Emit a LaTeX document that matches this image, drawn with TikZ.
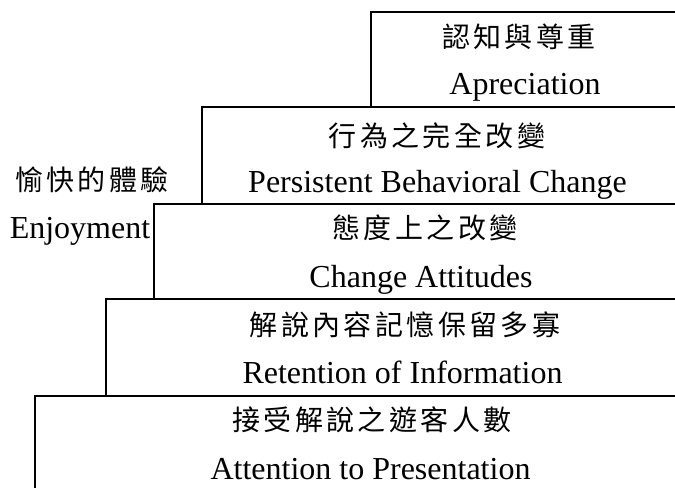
\documentclass[tikz,border=0pt]{standalone}
\usepackage{fontspec}
\setmainfont{Liberation Serif}
\newfontfamily\cjkfont[LetterSpace=12]{Noto Sans CJK TC}
\begin{document}
\begin{tikzpicture}[x=1pt,y=-1pt,line width=2.2pt,
  en/.style={font=\fontsize{32}{36}\selectfont, anchor=base, inner sep=0pt},
  zh/.style={font=\cjkfont\fontsize{28}{32}\selectfont, inner sep=0pt}]
\useasboundingbox (0,0) rectangle (675,488);
% steps
\draw (675,12) -- (371,12) -- (371,107);
\draw (675,107) -- (202,107) -- (202,204);
\draw (675,204) -- (154,204) -- (154,299);
\draw (675,299) -- (106,299) -- (106,396);
\draw (675,396) -- (35,396) -- (35,488);
% texts
\node[zh] (z1) at (519,37) {認知與尊重};
\node[en] (e1) at (525,94) {Apreciation};
\node[zh] (z2) at (437,136) {行為之完全改變};
\node[en] (e2) at (437.5,192) {Persistent Behavioral Change};
\node[zh] (z3) at (425,228) {態度上之改變};
\node[en] (e3) at (421,287) {Change Attitudes};
\node[zh] (z4) at (405,325) {解說內容記憶保留多寡};
\node[en] (e4) at (402.5,383) {Retention of Information};
\node[zh] (z5) at (372,420) {接受解說之遊客人數};
\node[en] (e5) at (370.5,479) {Attention to Presentation};
\node[zh] (z6) at (92,180) {愉快的體驗};
\node[en] (e6) at (80,238) {Enjoyment};
\end{tikzpicture}
\end{document}
